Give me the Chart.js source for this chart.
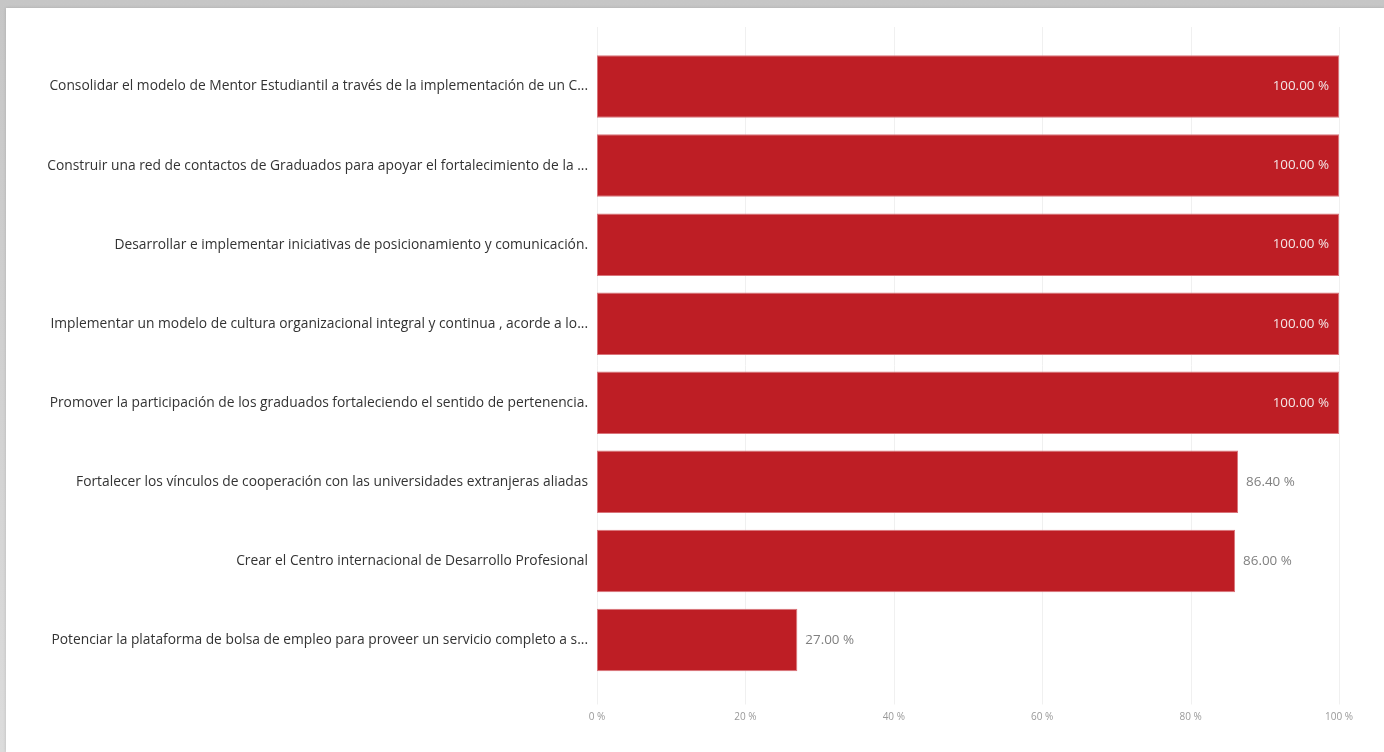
<!DOCTYPE html>
<html>
<head>
<meta charset="utf-8">
<script src="https://cdn.jsdelivr.net/npm/chart.js@4"></script>
<style>
  html, body { margin: 0; padding: 0; }
  body { width: 1384px; height: 752px; background: linear-gradient(#c6c6c6, #dcdcdc); overflow: hidden; position: relative; }
  #card { position: absolute; left: 6px; top: 8px; width: 1378px; height: 744px; background: #fff; box-shadow: 0 0 3px rgba(0,0,0,0.15); }
  #wrap { position: absolute; left: -6px; top: -8px; width: 1384px; height: 752px; }
</style>
</head>
<body>
<div id="card"><div id="wrap"><canvas id="container" width="1384" height="752"></canvas></div></div>
<script>
// objetivos y porcentaje de avance
var categorias = [
  "Consolidar el modelo de Mentor Estudiantil a través de la implementación de un C...",
  "Construir una red de contactos de Graduados para apoyar el fortalecimiento de la ...",
  "Desarrollar e implementar iniciativas de posicionamiento y comunicación.",
  "Implementar un modelo de cultura organizacional integral y continua , acorde a lo...",
  "Promover la participación de los graduados fortaleciendo el sentido de pertenencia.",
  "Fortalecer los vínculos de cooperación con las universidades extranjeras aliadas",
  "Crear el Centro internacional de Desarrollo Profesional",
  "Potenciar la plataforma de bolsa de empleo para proveer un servicio completo a s..."
];
var avance = [100, 100, 100, 100, 100, 86.4, 86, 27];
var xTicks = [0, 20, 40, 60, 80, 100];

var fuente = "'Open Sans', 'Noto Sans', sans-serif";

// grid lines drawn a bit longer than the chart area
var gridPlugin = {
  id: 'grid',
  beforeDatasetsDraw(chart) {
    const ctx = chart.ctx, x = chart.scales.x, a = chart.chartArea;
    ctx.save();
    ctx.strokeStyle = '#f0f0f0';
    ctx.lineWidth = 1;
    xTicks.forEach(t => {
      const px = Math.round(x.getPixelForValue(t)) + 0.5;
      ctx.beginPath();
      ctx.moveTo(px, a.top - 20);
      ctx.lineTo(px, a.bottom + 25);
      ctx.stroke();
    });
    ctx.restore();
  }
};

// value labels: inside the bar if it doesn't fit outside
var valorPlugin = {
  id: 'valores',
  afterDatasetsDraw(chart) {
    const ctx = chart.ctx, a = chart.chartArea;
    const meta = chart.getDatasetMeta(0);
    ctx.save();
    ctx.font = '13.4px ' + fuente;
    ctx.textBaseline = 'middle';
    meta.data.forEach((bar, i) => {
      const txt = avance[i].toFixed(2) + ' %';
      const w = ctx.measureText(txt).width;
      if (bar.x + 8 + w > a.right) {
        ctx.fillStyle = '#f4e6e6';
        ctx.textAlign = 'right';
        ctx.fillText(txt, bar.x - 10, bar.y);
      } else {
        ctx.fillStyle = '#808080';
        ctx.textAlign = 'left';
        ctx.fillText(txt, bar.x + 8, bar.y);
      }
    });
    ctx.restore();
  }
};

new Chart("container", {
  type: 'bar',
  data: {
    labels: categorias,
    datasets: [{
      data: avance,
      backgroundColor: '#be1e25',
      borderColor: '#d9747a',
      borderWidth: 1,
      borderSkipped: false,
      categoryPercentage: 0.79,
      barPercentage: 1
    }]
  },
  options: {
    indexAxis: 'y',
    responsive: false,
    animation: false,
    devicePixelRatio: 1,
    layout: { padding: { top: 47, right: 45, bottom: 0, left: 0 } },
    plugins: { legend: { display: false }, tooltip: { enabled: false } },
    scales: {
      x: {
        min: 0, max: 100,
        afterBuildTicks: s => { s.ticks = xTicks.map(v => ({ value: v })); },
        afterFit: s => { s.height = 72.5; },
        grid: { display: false },
        border: { display: false },
        ticks: {
          padding: 24,
          color: '#999999',
          font: { family: fuente, size: 10 },
          callback: v => v + ' %'
        }
      },
      y: {
        grid: { display: false },
        border: { display: false },
        afterFit: s => { s.width = 597; },
        ticks: {
          padding: 1,
          color: '#333333',
          font: { family: fuente, size: 13.8 }
        }
      }
    }
  },
  plugins: [gridPlugin, valorPlugin]
});
</script>
</body>
</html>
